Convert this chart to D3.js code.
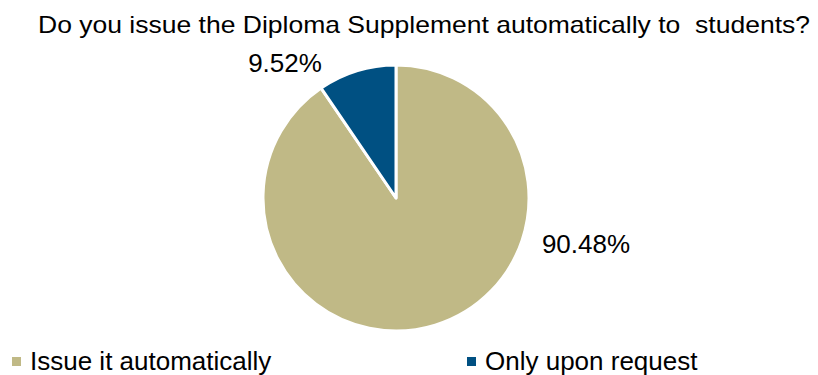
<!DOCTYPE html>
<html><head><meta charset="utf-8">
<script src="https://cdn.jsdelivr.net/npm/d3@7"></script>
<style>body{margin:0;background:#fff}svg{display:block}text{font-family:"Liberation Sans",Arial,sans-serif;fill:#000;white-space:pre}</style>
</head><body>
<svg id="c" width="818" height="375"></svg>
<script>
const categories = ["Issue it automatically", "Only upon request"];
const values = [90.48, 9.52];
const valueLabels = ["90.48%", "9.52%"];
const colors = ["#C0B986", "#005082"];
const title = "Do you issue the Diploma Supplement automatically to  students?";

const svg = d3.select("#c");
const cx = 396, cy = 198, r = 133;

svg.append("text").attr("x", 38).attr("y", 33).attr("font-size", 24)
  .attr("textLength", 772).attr("lengthAdjust", "spacingAndGlyphs").text(title);

const pie = d3.pie().sort(null).value(d => d)(values);
const arc = d3.arc().innerRadius(0).outerRadius(r);
const g = svg.append("g").attr("transform", `translate(${cx},${cy})`);
g.selectAll("path").data(pie).join("path")
  .attr("d", arc).attr("fill", (d, i) => colors[i])
  .attr("stroke", "#fff").attr("stroke-width", 3).attr("stroke-linejoin", "round");

// data labels
const labelPos = [[586, 253], [285, 72]];
svg.selectAll("text.lbl").data(valueLabels).join("text").attr("class", "lbl")
  .attr("x", (d, i) => labelPos[i][0]).attr("y", (d, i) => labelPos[i][1])
  .attr("text-anchor", "middle").attr("font-size", 26).text(d => d);

// legend
const legX = [12, 467];
const lg = svg.selectAll("g.leg").data(categories).join("g").attr("class", "leg")
  .attr("transform", (d, i) => `translate(${legX[i]},0)`);
lg.append("rect").attr("x", 0).attr("y", 357).attr("width", 9).attr("height", 9)
  .attr("fill", (d, i) => colors[i]);
lg.append("text").attr("x", 18).attr("y", 370).attr("font-size", 26).text(d => d);
</script>
</body></html>
